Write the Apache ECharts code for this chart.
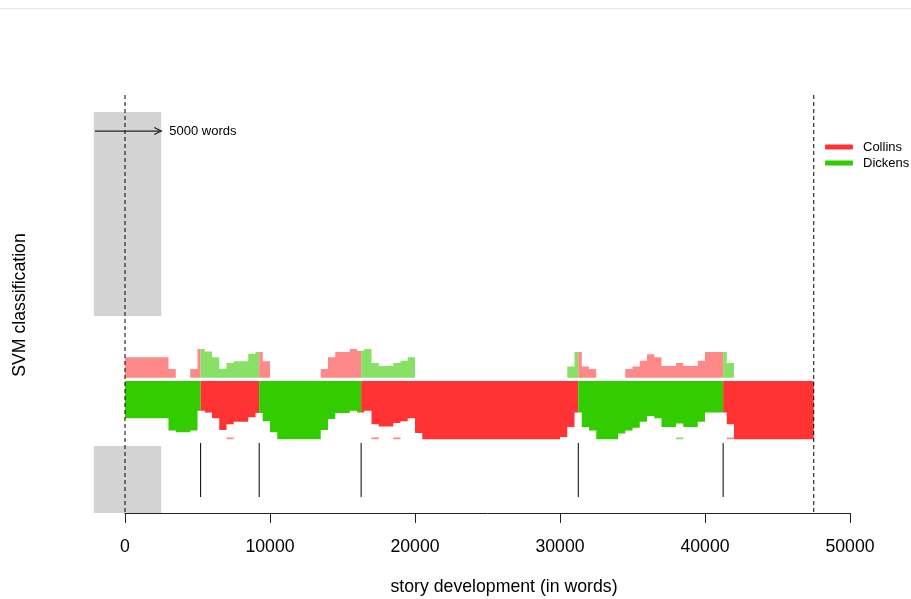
<!DOCTYPE html>
<html><head><meta charset="utf-8">
<script src="https://cdn.jsdelivr.net/npm/echarts@6/dist/echarts.min.js"></script>
<style>html,body{margin:0;padding:0;background:#fff}#c{width:911px;height:599px}</style>
</head><body><div id="c"></div>
<script>
// ---- data ----
const stepWords = 500;                 // slice step (words)
const sliceSize = 5000;                // slice size shown by the arrow
const segmentBreaks = [0, 5215, 9255, 16285, 31260, 41250, 47500];
const segmentAuthor = ['Dickens', 'Collins', 'Dickens', 'Collins', 'Dickens', 'Collins'];
const winnerScore = [
  0.64,0.64,0.64,0.64,0.64,0.64,0.85,0.88,0.88,0.85,
  0.51,0.54,0.64,0.84,0.74,0.70,0.70,0.62,0.55,0.69,
  0.88,1,1,1,1,1,1,0.84,0.65,0.55,
  0.55,0.51,0.54,0.51,0.74,0.78,0.78,0.72,0.69,0.64,
  0.89,1,1,1,1,1,1,1,1,1,
  1,1,1,1,1,1,1,1,1,1,
  0.96,0.79,0.54,0.79,0.85,1,1,1,0.90,0.85,
  0.80,0.70,0.60,0.64,0.79,0.79,0.73,0.79,0.79,0.70,
  0.54,0.54,0.54,0.74,1,1,1,1,1,1,
  1,1,1,1,1
];
const rivalScore = [
  0.35,0.35,0.35,0.35,0.35,0.35,0.15,0,0,0.15,
  0.49,0.45,0.35,0.15,0.25,0.28,0.28,0.41,0.44,0.28,
  0,0,0,0,0,0,0,0.15,0.35,0.44,
  0.44,0.49,0.46,0.49,0.25,0.20,0.20,0.25,0.29,0.35,
  0,0,0,0,0,0,0,0,0,0,
  0,0,0,0,0,0,0,0,0,0,
  0,0.19,0.44,0.19,0.15,0,0,0,0,0.15,
  0.19,0.29,0.40,0.35,0.20,0.20,0.25,0.20,0.20,0.29,
  0.44,0.44,0.44,0.25,0,0,0,0,0,0,
  0,0,0,0,0
];
const thirdScore = [
  0,0,0,0,0,0,0,0,0,0,
  0,0,0,0,0.03,0,0,0,0,0,
  0,0,0,0,0,0,0,0,0,0,
  0,0,0,0,0.03,0,0,0.03,0,0,
  0,0,0,0,0,0,0,0,0,0,
  0,0,0,0,0,0,0,0,0,0,
  0,0,0,0,0,0,0,0,0,0,
  0,0,0,0,0,0,0.03,0,0,0,
  0,0,0,0.03,0,0,0,0,0,0,
  0,0,0,0,0
];
const authors = ['Collins', 'Dickens'];
const xTickStep = 10000;

// ---- styles / layout ----
const strongColor = { Collins: '#ff3333', Dickens: '#33cc00' };
const paleColor = { Collins: '#ff8888', Dickens: '#88e066' };
const FONT = "'Liberation Sans', Arial, sans-serif";
const Y_MIN = -2.264, Y_MAX = 4.906;
const nSteps = winnerScore.length;
const other = a => (a === 'Collins' ? 'Dickens' : 'Collins');
const bandTop = 0, bandBottom = -1, rivalBase = 0.057;

function renderSegment(params, api) {
  const k = api.value(0);
  const s = segmentBreaks[k], e = segmentBreaks[k + 1];
  const who = segmentAuthor[k];
  const first = Math.floor(s / stepWords);
  const last = Math.min(nSteps, Math.ceil(e / stepWords)) - 1;
  const band = [api.coord([s, bandTop]), api.coord([e, bandTop])];
  const rival = [api.coord([s, rivalBase]), api.coord([e, rivalBase])];
  const third = [api.coord([s, bandBottom]), api.coord([e, bandBottom])];
  for (let i = last; i >= first; i--) {
    const x0 = Math.max(s, i * stepWords), x1 = Math.min(e, (i + 1) * stepWords);
    band.push(api.coord([x1, bandTop - winnerScore[i]]), api.coord([x0, bandTop - winnerScore[i]]));
    rival.push(api.coord([x1, rivalBase + rivalScore[i]]), api.coord([x0, rivalBase + rivalScore[i]]));
    third.push(api.coord([x1, bandBottom + thirdScore[i]]), api.coord([x0, bandBottom + thirdScore[i]]));
  }
  return { type: 'group', children: [
    { type: 'polygon', shape: { points: rival }, style: { fill: paleColor[other(who)] } },
    { type: 'polygon', shape: { points: band }, style: { fill: strongColor[who] } },
    { type: 'polygon', shape: { points: third }, style: { fill: paleColor[who] } }
  ] };
}

function renderBack(params, api) {
  const c = (x, y) => api.coord([x, y]);
  const wl = -2150, wr = 2500;
  const a = c(wl, 4.614), b = c(wr, 1.115);
  const d = c(wl, -1.115), f = c(wr, Y_MIN);
  return { type: 'group', children: [
    { type: 'rect', shape: { x: a[0], y: a[1], width: b[0] - a[0], height: b[1] - a[1] }, style: { fill: '#d3d3d3' } },
    { type: 'rect', shape: { x: d[0], y: d[1], width: f[0] - d[0], height: f[1] - d[1] }, style: { fill: '#d3d3d3' } }
  ] };
}

function renderFront(params, api) {
  const c = (x, y) => api.coord([x, y]);
  const children = [];
  [segmentBreaks[0], segmentBreaks[segmentBreaks.length - 1]].forEach(x => {
    const p = c(x, Y_MAX), q = c(x, Y_MIN);
    children.push({ type: 'line', shape: { x1: p[0], y1: p[1], x2: q[0], y2: q[1] },
      style: { stroke: '#000', lineWidth: 1, lineDash: [4, 3] } });
  });
  segmentBreaks.slice(1, -1).forEach(x => {
    const p = c(x, -1.063), q = c(x, -1.99);
    children.push({ type: 'line', shape: { x1: p[0], y1: p[1], x2: q[0], y2: q[1] },
      style: { stroke: '#000', lineWidth: 1 } });
  });
  const tip = c(sliceSize / 2, 4.288);
  const tail = c(-2080, 4.288);
  children.push({ type: 'line', shape: { x1: tail[0], y1: tail[1], x2: tip[0], y2: tip[1] }, style: { stroke: '#222', lineWidth: 1.2 } });
  children.push({ type: 'polyline', shape: { points: [[tip[0] - 7, tip[1] - 3.5], [tip[0], tip[1]], [tip[0] - 7, tip[1] + 3.5]] }, style: { stroke: '#222', lineWidth: 1.2, fill: null } });
  children.push({ type: 'text', x: tip[0] + 8, y: tip[1], style: { text: sliceSize + ' words', font: '13px ' + FONT, fill: '#000', verticalAlign: 'middle', align: 'left' } });
  return { type: 'group', children };
}

const chart = echarts.init(document.getElementById('c'));
chart.setOption({
  animation: false,
  backgroundColor: '#fff',
  grid: { left: 125, right: 61, top: 95, bottom: 86 },
  xAxis: {
    type: 'value', min: 0, max: 50000, interval: xTickStep,
    axisLine: { show: true, onZero: false, lineStyle: { color: '#222', width: 1 } },
    axisTick: { show: true, length: 10, lineStyle: { color: '#222', width: 1 } },
    axisLabel: { fontSize: 17.7, color: '#000', margin: 25, fontFamily: FONT, formatter: v => String(v) },
    splitLine: { show: false }
  },
  yAxis: { type: 'value', min: Y_MIN, max: Y_MAX, show: false, splitLine: { show: false } },
  legend: {
    data: authors, orient: 'vertical', left: 820, top: 134,
    icon: 'roundRect', itemWidth: 28, itemHeight: 5, itemGap: 0,
    textStyle: { fontSize: 13, color: '#000', fontFamily: FONT, lineHeight: 16, padding: [0, 0, 0, 5] }
  },
  graphic: [
    { type: 'line', shape: { x1: 0, y1: 8.5, x2: 911, y2: 8.5 }, style: { stroke: '#e3e3e3', lineWidth: 1 } },
    { type: 'text', x: 504, y: 587, style: { text: 'story development (in words)', font: '17.7px ' + FONT, fill: '#000', align: 'center', verticalAlign: 'middle' } },
    { type: 'text', x: 20, y: 305, rotation: Math.PI / 2, style: { text: 'SVM classification', font: '17.7px ' + FONT, fill: '#000', align: 'center', verticalAlign: 'middle' } }
  ],
  series: [
    { type: 'custom', name: 'window', z: 1, clip: false, silent: true, renderItem: renderBack, data: [[0]] },
    { type: 'custom', name: 'slices', z: 2, clip: false, silent: true, renderItem: renderSegment,
      data: segmentAuthor.map((a, k) => [k]) },
    { type: 'custom', name: 'marks', z: 3, clip: false, silent: true, renderItem: renderFront, data: [[0]] },
    { type: 'line', name: 'Collins', data: [], itemStyle: { color: strongColor.Collins }, lineStyle: { color: strongColor.Collins } },
    { type: 'line', name: 'Dickens', data: [], itemStyle: { color: strongColor.Dickens }, lineStyle: { color: strongColor.Dickens } }
  ]
});
</script></body></html>
